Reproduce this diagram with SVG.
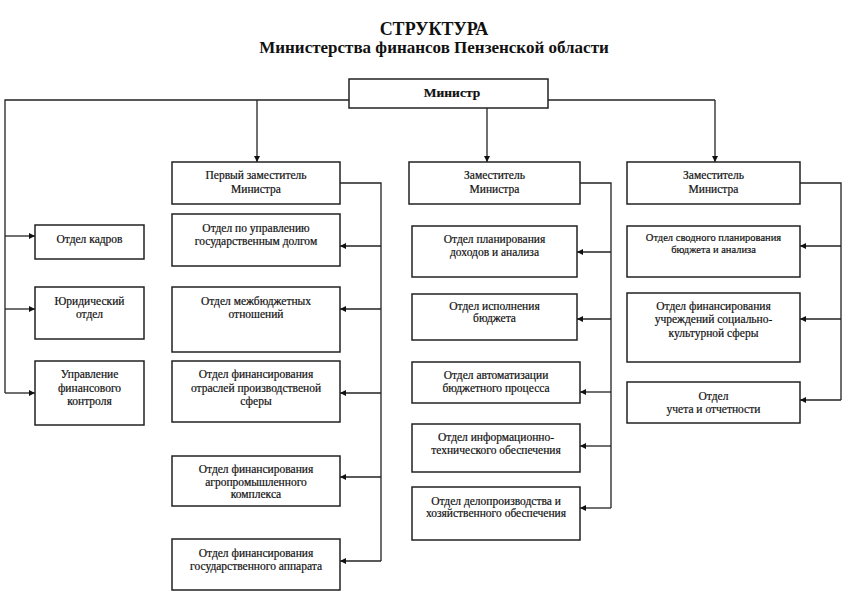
<svg xmlns="http://www.w3.org/2000/svg" width="850" height="600" viewBox="0 0 850 600">
<defs>
<marker id="ah" viewBox="0 0 10 10" refX="10" refY="5" markerWidth="6" markerHeight="6" markerUnits="userSpaceOnUse" orient="auto">
<path d="M0,0 L10,5 L0,10 z" fill="#111"/>
</marker>
<style>
.box{fill:#fff;stroke:#222;stroke-width:1.5}
.t{font-family:"Liberation Serif","Times New Roman",serif;font-size:11.5px;fill:#111;stroke:#111;stroke-width:0.2;text-anchor:middle}
.s{font-size:10.5px}
.b{font-weight:bold}
.title{font-family:"Liberation Serif","Times New Roman",serif;font-weight:bold;fill:#111;text-anchor:middle}
.c{fill:none;stroke:#222;stroke-width:1.3}
</style>
</defs>
<rect width="850" height="600" fill="#fff"/>
<text class="title" x="434" y="35" style="font-size:18px">СТРУКТУРА</text>
<text class="title" x="434" y="53" style="font-size:17px">Министерства финансов Пензенской области</text>

<g id="connectors">
<path class="c" d="M349,100 H5 V393"/>
<path class="c" d="M548,100 H715"/>
<path class="c" d="M5,236 H35" marker-end="url(#ah)"/>
<path class="c" d="M5,309 H35" marker-end="url(#ah)"/>
<path class="c" d="M5,393 H35" marker-end="url(#ah)"/>
<path class="c" d="M257,100 V162" marker-end="url(#ah)"/>
<path class="c" d="M487,108 V162" marker-end="url(#ah)"/>
<path class="c" d="M715,100 V162" marker-end="url(#ah)"/>
<path class="c" d="M340,183 H381 V561"/>
<path class="c" d="M381,246 H340" marker-end="url(#ah)"/>
<path class="c" d="M381,309 H340" marker-end="url(#ah)"/>
<path class="c" d="M381,393 H340" marker-end="url(#ah)"/>
<path class="c" d="M381,477 H340" marker-end="url(#ah)"/>
<path class="c" d="M381,561 H340" marker-end="url(#ah)"/>
<path class="c" d="M580,183 H611 V508"/>
<path class="c" d="M611,252 H577" marker-end="url(#ah)"/>
<path class="c" d="M611,319 H577" marker-end="url(#ah)"/>
<path class="c" d="M611,392 H580" marker-end="url(#ah)"/>
<path class="c" d="M611,446 H580" marker-end="url(#ah)"/>
<path class="c" d="M611,508 H580" marker-end="url(#ah)"/>
<path class="c" d="M800,183 H841 V400"/>
<path class="c" d="M841,246 H800" marker-end="url(#ah)"/>
<path class="c" d="M841,319 H800" marker-end="url(#ah)"/>
<path class="c" d="M841,400 H800" marker-end="url(#ah)"/>
</g>

<g id="minister"><rect class="box" x="349" y="79" width="199" height="29"/><text class="t b" x="452" y="97" style="font-size:13.5px">Министр</text></g>

<g id="kadry"><rect class="box" x="35" y="225" width="109" height="34"/><text class="t" x="89.5" y="243">Отдел кадров</text></g>
<g id="yur"><rect class="box" x="35" y="287" width="109" height="52"/><text class="t" x="89.5" y="305">Юридический</text><text class="t" x="89.5" y="318">отдел</text></g>
<g id="ufk"><rect class="box" x="35" y="361" width="109" height="64"/><text class="t" x="89.5" y="378">Управление</text><text class="t" x="89.5" y="392">финансового</text><text class="t" x="89.5" y="405">контроля</text></g>

<g id="first-deputy"><rect class="box" x="172" y="162" width="168" height="42"/><text class="t" x="256" y="179">Первый заместитель</text><text class="t" x="256" y="193">Министра</text></g>
<g id="dolg"><rect class="box" x="172" y="214" width="168" height="52"/><text class="t" x="256" y="232">Отдел по управлению</text><text class="t" x="256" y="245">государственным долгом</text></g>
<g id="mezhbud"><rect class="box" x="172" y="287" width="168" height="65"/><text class="t" x="256" y="305">Отдел межбюджетных</text><text class="t" x="256" y="318">отношений</text></g>
<g id="otrasl"><rect class="box" x="172" y="361" width="168" height="61"/><text class="t" x="256" y="378">Отдел финансирования</text><text class="t" x="256" y="392">отраслей производственой</text><text class="t" x="256" y="405">сферы</text></g>
<g id="agro"><rect class="box" x="172" y="456" width="168" height="50"/><text class="t" x="256" y="473">Отдел финансирования</text><text class="t" x="256" y="486">агропромышленного</text><text class="t" x="256" y="498">комплекса</text></g>
<g id="apparat"><rect class="box" x="172" y="539" width="168" height="51"/><text class="t" x="256" y="557">Отдел финансирования</text><text class="t" x="256" y="570">государственного аппарата</text></g>

<g id="deputy2"><rect class="box" x="409" y="162" width="171" height="42"/><text class="t" x="494.5" y="179">Заместитель</text><text class="t" x="494.5" y="193">Министра</text></g>
<g id="plan"><rect class="box" x="412" y="226" width="165" height="51"/><text class="t" x="494.5" y="243">Отдел планирования</text><text class="t" x="494.5" y="256">доходов и анализа</text></g>
<g id="ispoln"><rect class="box" x="412" y="294" width="165" height="46"/><text class="t" x="494.5" y="310">Отдел исполнения</text><text class="t" x="494.5" y="322">бюджета</text></g>
<g id="avto"><rect class="box" x="412" y="362" width="168" height="41"/><text class="t" x="496" y="379">Отдел автоматизации</text><text class="t" x="496" y="392">бюджетного процесса</text></g>
<g id="info"><rect class="box" x="412" y="424" width="168" height="48"/><text class="t" x="496" y="441">Отдел информационно-</text><text class="t" x="496" y="454">технического обеспечения</text></g>
<g id="delo"><rect class="box" x="412" y="487" width="168" height="53"/><text class="t" x="496" y="505">Отдел делопроизводства и</text><text class="t" x="496" y="517">хозяйственного обеспечения</text></g>

<g id="deputy3"><rect class="box" x="627" y="162" width="173" height="42"/><text class="t" x="713.5" y="179">Заместитель</text><text class="t" x="713.5" y="193">Министра</text></g>
<g id="svod"><rect class="box" x="627" y="226" width="173" height="51"/><text class="t s" x="713.5" y="241">Отдел сводного планирования</text><text class="t s" x="713.5" y="253">бюджета и анализа</text></g>
<g id="soc"><rect class="box" x="627" y="293" width="173" height="69"/><text class="t" x="713.5" y="310">Отдел финансирования</text><text class="t" x="713.5" y="323">учреждений социально-</text><text class="t" x="713.5" y="337">культурной сферы</text></g>
<g id="uchet"><rect class="box" x="627" y="382" width="173" height="41"/><text class="t" x="713.5" y="400">Отдел</text><text class="t" x="713.5" y="413">учета и отчетности</text></g>
</svg>
